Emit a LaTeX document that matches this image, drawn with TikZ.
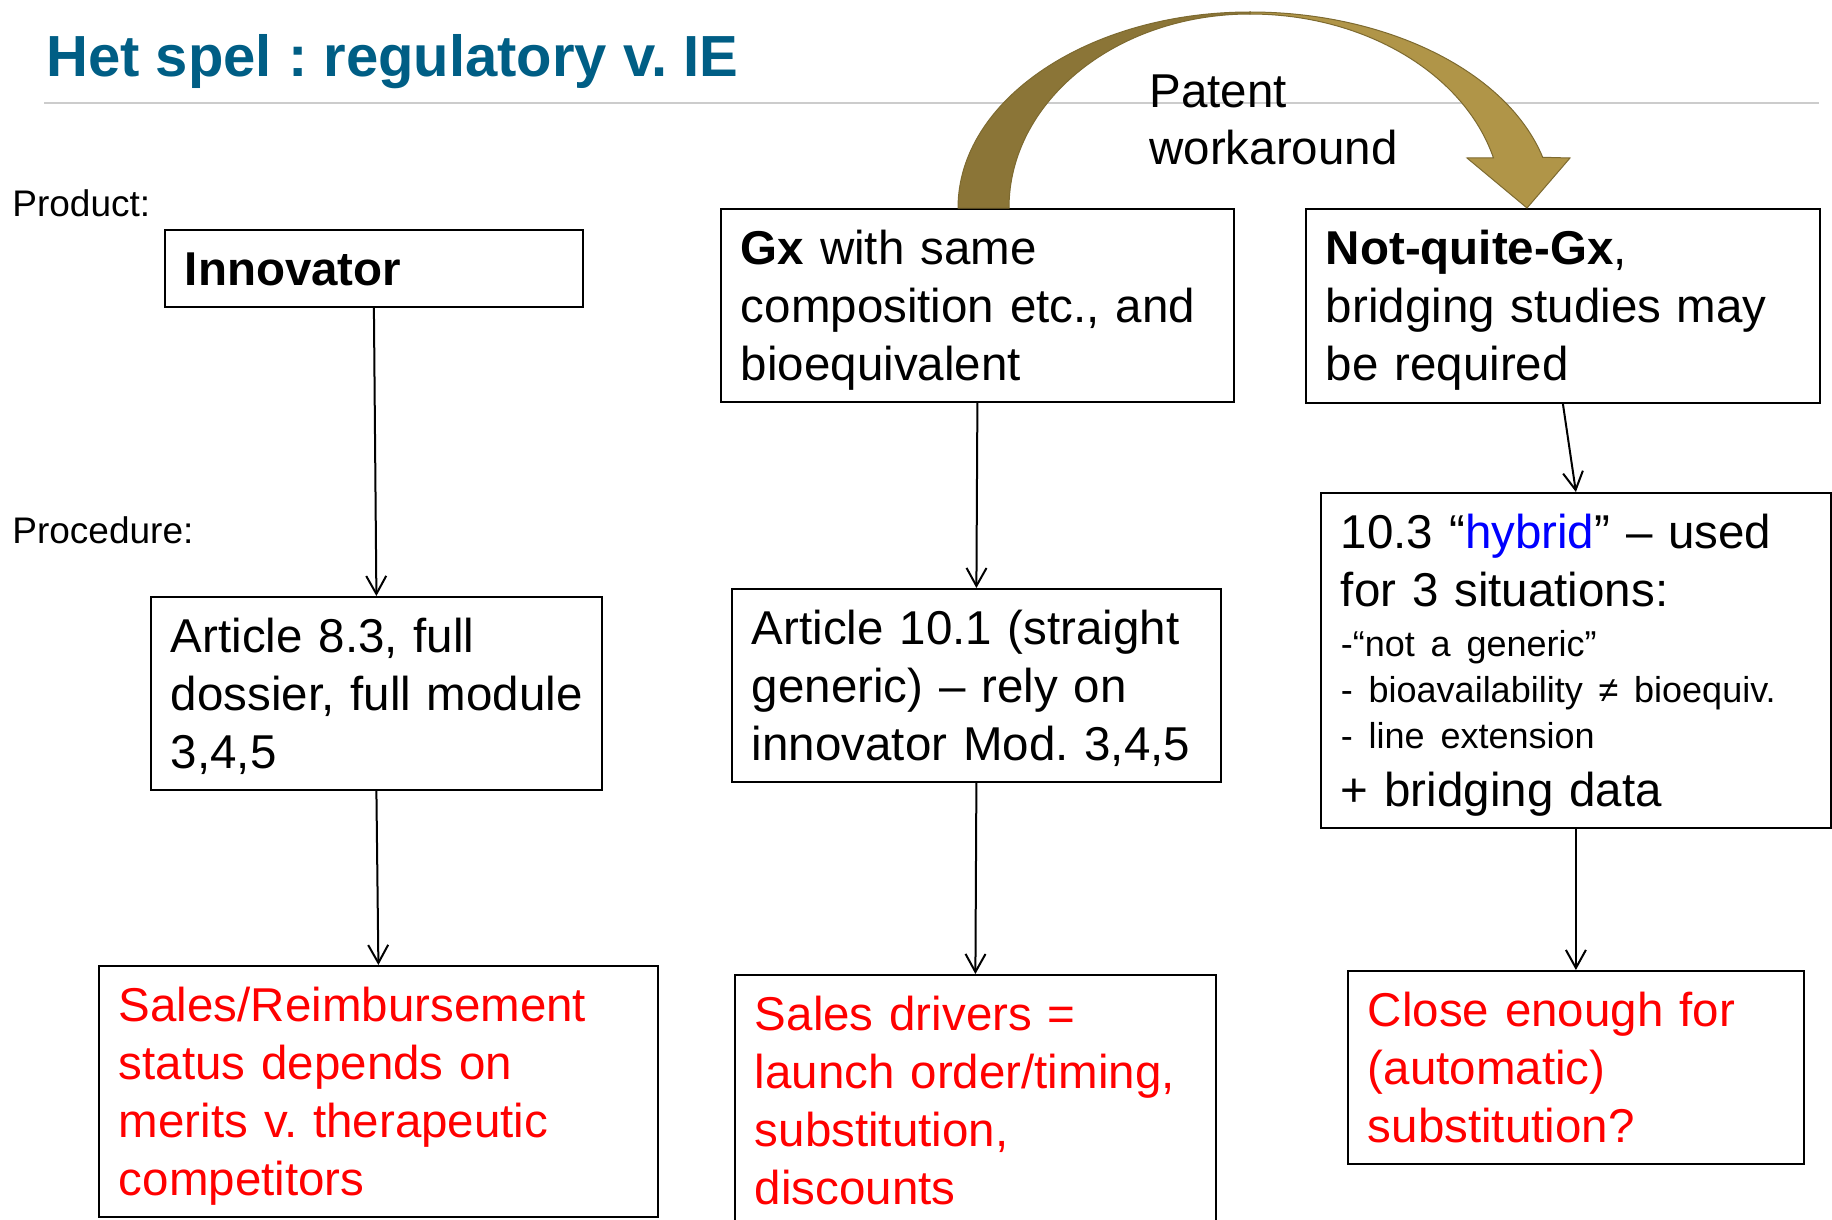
\documentclass[tikz,border=0pt]{standalone}
\usepackage{fontspec}
\setmainfont{Liberation Sans}
\usetikzlibrary{arrows.meta}
\frenchspacing
\definecolor{titleblue}{RGB}{0,94,133}
\definecolor{rulegray}{RGB}{204,204,204}
\definecolor{bowdark}{RGB}{139,117,55}
\definecolor{bowlight}{RGB}{176,149,72}
\definecolor{bowline}{RGB}{125,106,48}
\definecolor{hybridblue}{RGB}{0,0,255}
\newcommand\cellfont{\fontsize{23.75}{29}\selectfont}
\newcommand\hybsmall{\fontsize{18}{23}\selectfont}
\newcommand\sidefont{\fontsize{18.5}{22}\selectfont}
\tikzset{
  box/.style={draw, line width=0.9pt, anchor=north west, inner xsep=10pt, inner ysep=10pt, text height=18pt, align=left, font=\cellfont},
  redbox/.style={box, text=red},
  flow/.style={-{Straight Barb[length=9pt,width=10pt]}, line width=1pt},
}
\begin{document}
\begin{tikzpicture}[x=0.5pt, y=-0.5pt]
    \useasboundingbox (0,0) rectangle (1832,1220);
    % title and rule
    \node[anchor=base west, inner sep=0pt, font=\fontsize{29}{34}\selectfont\bfseries, text=titleblue] (title) at (46,77) {Het spel : regulatory v. IE};
    \draw[rulegray, line width=1pt] (44,103) -- (1819,103);
    \node[anchor=west, inner sep=0pt, font=\sidefont] (prodlbl) at (12,203) {Product:};
    \node[anchor=west, inner sep=0pt, font=\sidefont] (proclbl) at (12,530) {Procedure:};
    % product row
    \node[box, text width=189pt, text depth=0.5pt] (innov) at (164,229) {\textbf{Innovator}};
    \node[box, text width=236.5pt, text depth=58.5pt] (gx) at (720,208) {\textbf{Gx} with same\\composition etc., and\\bioequivalent};
    \node[box, text width=237pt, text depth=59pt] (notgx) at (1305,208) {\textbf{Not-quite-Gx},\\bridging studies may\\be required};
    % procedure row
    \node[box, text width=205.5pt, text depth=58.5pt] (art83) at (150,596) {Article 8.3, full\\\mbox{dossier, full module}\\3,4,5};
    \node[box, text width=224.5pt, text depth=58.5pt] (art101) at (731,588) {Article 10.1 (straight\\generic) – rely on\\innovator Mod. 3,4,5};
    \node[box, text width=235pt, text depth=129.5pt] (hybrid) at (1320,492) {%
        {\cellfont 10.3 “\textcolor{hybridblue}{hybrid}” – used\\for 3 situations:\par}%
        {\hybsmall\vspace{2pt}-“not a generic”\\- bioavailability ≠ bioequiv.\\- line extension\par}%
        {\cellfont + bridging data\par}};
    % market row
    \node[redbox, text width=259.5pt, text depth=87.5pt] (sales) at (98,965) {Sales/Reimbursement\\status depends on\\merits v. therapeutic\\competitors};
    \node[redbox, text width=220.5pt, text depth=87.5pt] (drivers) at (734,974) {Sales drivers =\\launch order/timing,\\substitution,\\discounts};
    \node[redbox, text width=208pt, text depth=58.5pt] (close) at (1347,970) {Close enough for\\(automatic)\\substitution?};
    % flows
    \draw[flow] (innov.south) -- (art83.north);
    \draw[flow] (art83.south) -- (sales.north);
    \draw[flow] (gx.south) -- (art101.north);
    \draw[flow] (art101.south) -- (drivers.north);
    \draw[flow] (notgx.south) -- (hybrid.north);
    \draw[flow] (hybrid.south) -- (close.north);
    % patent workaround bow
    \filldraw[fill=bowdark, draw=bowline, line width=0.5pt] (958,208) arc[start angle=180, end angle=270, x radius=292, y radius=196] -- (1250,14) arc[start angle=270, end angle=180, x radius=241, y radius=194] -- cycle;
    \filldraw[fill=bowlight, draw=bowline, line width=0.5pt] (1250,12) arc[start angle=270, end angle=345, x radius=303, y radius=196] -- (1570,158) -- (1527,208) -- (1467,158) -- (1493.4,157.8) arc[start angle=345, end angle=270, x radius=252, y radius=194] -- cycle;
    \node[anchor=west, inner sep=0pt, align=left, font=\fontsize{23.75}{28.5}\selectfont] (patent) at (1149,119.5) {Patent\\workaround};
\end{tikzpicture}
\end{document}
